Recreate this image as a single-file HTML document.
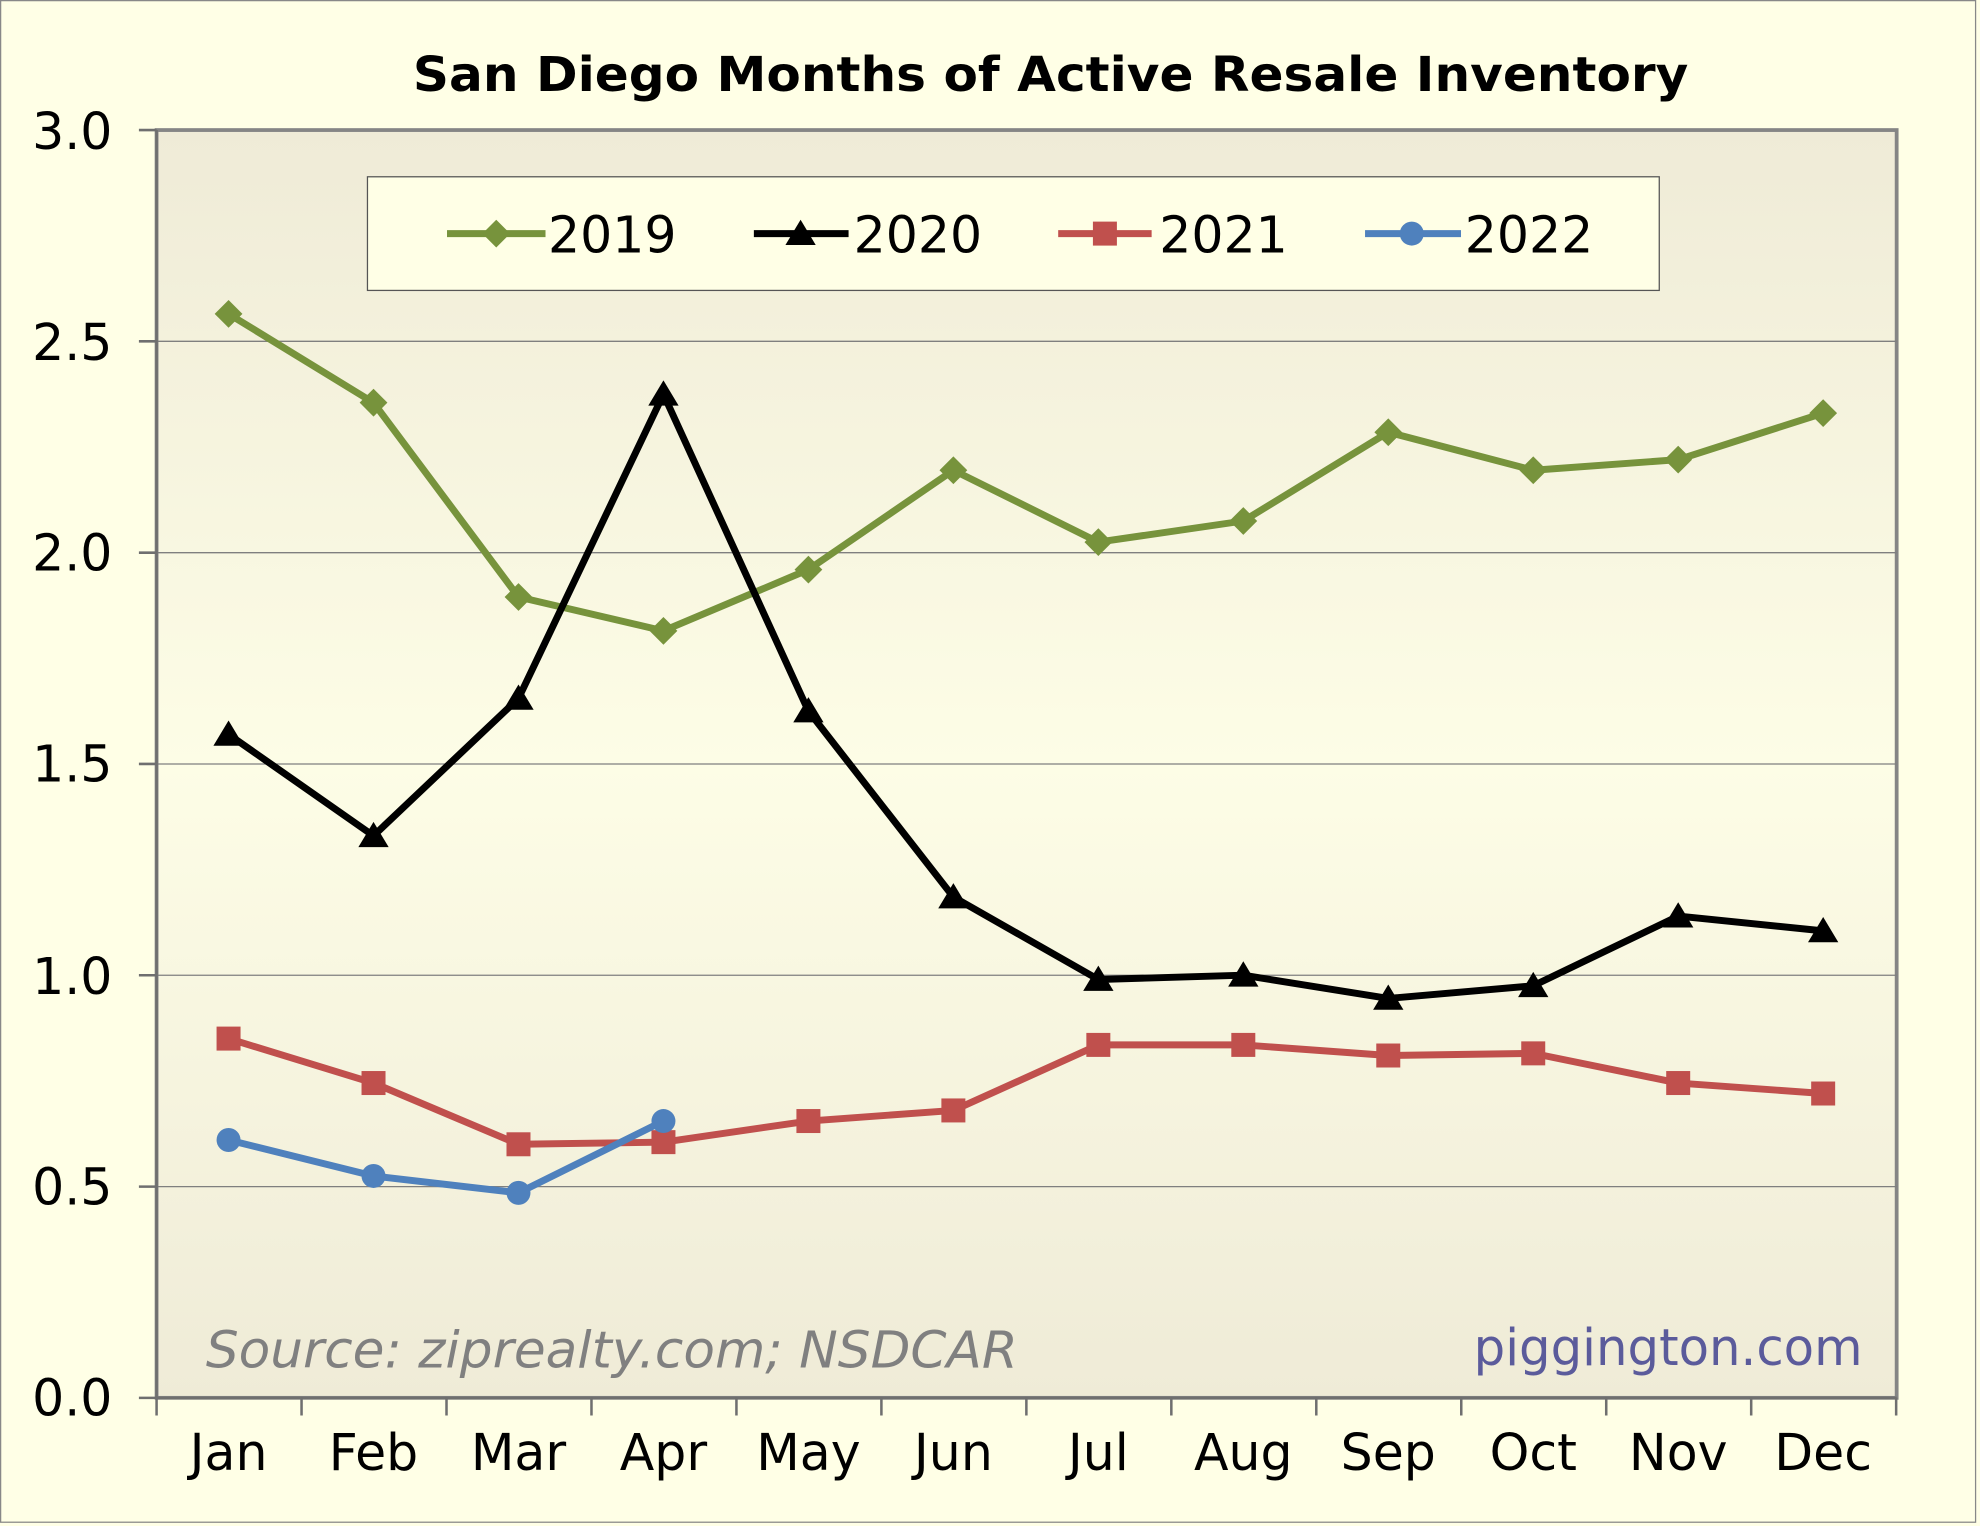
<!DOCTYPE html>
<html><head><style>html,body{margin:0;padding:0;background:#ffffe6;}svg{display:block}</style></head>
<body>
<svg width="1980" height="1526" viewBox="0 0 1568 1208.5" preserveAspectRatio="none" xmlns="http://www.w3.org/2000/svg">
<defs>
<linearGradient id="g" x1="0" y1="0" x2="0" y2="1">
<stop offset="0" stop-color="#efebd7"/>
<stop offset="0.5" stop-color="#fdfde6"/>
<stop offset="1" stop-color="#efebd7"/>
</linearGradient>
</defs>
<rect x="0.5" y="0.5" width="1564" height="1205" fill="#ffffe6" stroke="#888" stroke-width="1"/>
<text x="832" y="72" text-anchor="middle" font-family="DejaVu Sans, Liberation Sans, sans-serif" font-weight="bold" font-size="38" textLength="1010" lengthAdjust="spacingAndGlyphs">San Diego Months of Active Resale Inventory</text>
<rect x="124" y="103" width="1378" height="1004" fill="url(#g)" stroke="#858585" stroke-width="3"/>
<g stroke="#7f7f7f" stroke-width="1">
<line x1="124" y1="270.3" x2="1502" y2="270.3"/>
<line x1="124" y1="437.7" x2="1502" y2="437.7"/>
<line x1="124" y1="605" x2="1502" y2="605"/>
<line x1="124" y1="772.3" x2="1502" y2="772.3"/>
<line x1="124" y1="939.7" x2="1502" y2="939.7"/>
</g>
<g stroke="#6f6f6f" stroke-width="2">
<line x1="124" y1="103" x2="124" y2="1107"/>
<line x1="124" y1="1107" x2="1502" y2="1107"/>
<line x1="110" y1="103" x2="124" y2="103"/><line x1="110" y1="270.3" x2="124" y2="270.3"/><line x1="110" y1="437.7" x2="124" y2="437.7"/><line x1="110" y1="605" x2="124" y2="605"/><line x1="110" y1="772.3" x2="124" y2="772.3"/><line x1="110" y1="939.7" x2="124" y2="939.7"/><line x1="110" y1="1107" x2="124" y2="1107"/>
<line x1="124" y1="1107" x2="124" y2="1121"/><line x1="238.8" y1="1107" x2="238.8" y2="1121"/><line x1="353.6" y1="1107" x2="353.6" y2="1121"/><line x1="468.4" y1="1107" x2="468.4" y2="1121"/><line x1="583.2" y1="1107" x2="583.2" y2="1121"/><line x1="698" y1="1107" x2="698" y2="1121"/><line x1="812.8" y1="1107" x2="812.8" y2="1121"/><line x1="927.6" y1="1107" x2="927.6" y2="1121"/><line x1="1042.4" y1="1107" x2="1042.4" y2="1121"/><line x1="1157.2" y1="1107" x2="1157.2" y2="1121"/><line x1="1272" y1="1107" x2="1272" y2="1121"/><line x1="1386.8" y1="1107" x2="1386.8" y2="1121"/><line x1="1501.6" y1="1107" x2="1501.6" y2="1121"/>
</g>
<g font-family="DejaVu Sans, Liberation Sans, sans-serif" font-size="40" text-anchor="end">
<text x="89" y="118">3.0</text><text x="89" y="285">2.5</text><text x="89" y="452">2.0</text><text x="89" y="619">1.5</text><text x="89" y="787">1.0</text><text x="89" y="954">0.5</text><text x="89" y="1121">0.0</text>
</g>
<g font-family="DejaVu Sans, Liberation Sans, sans-serif" font-size="40" text-anchor="middle">
<text x="181" y="1164">Jan</text><text x="295.8" y="1164">Feb</text><text x="410.6" y="1164">Mar</text><text x="525.4" y="1164">Apr</text><text x="640.2" y="1164">May</text><text x="755" y="1164">Jun</text><text x="869.8" y="1164">Jul</text><text x="984.6" y="1164">Aug</text><text x="1099.4" y="1164">Sep</text><text x="1214.2" y="1164">Oct</text><text x="1329" y="1164">Nov</text><text x="1443.8" y="1164">Dec</text>
</g>
<text x="163" y="1083" font-family="DejaVu Sans, Liberation Sans, sans-serif" font-style="italic" font-size="40" fill="#808080" textLength="643" lengthAdjust="spacingAndGlyphs">Source: ziprealty.com; NSDCAR</text>
<text x="1475" y="1081" text-anchor="end" font-family="DejaVu Sans, Liberation Sans, sans-serif" font-size="40" fill="#5b5b9b" textLength="308" lengthAdjust="spacingAndGlyphs">piggington.com</text>
<rect x="291" y="140" width="1023" height="90" fill="#ffffe6" stroke="#555" stroke-width="1"/>
<polyline fill="none" stroke="#77933c" stroke-width="5.5" stroke-linejoin="round" points="181,248.6 295.8,318.9 410.6,472.8 525.4,499.6 640.2,451.1 755,372.4 869.8,429.3 984.6,412.6 1099.4,342.3 1214.2,372.4 1329,364 1443.8,327.2"/>
<g fill="#77933c">
<path d="M181,237.6l11,11l-11,11l-11,-11z"/><path d="M295.8,307.9l11,11l-11,11l-11,-11z"/><path d="M410.6,461.8l11,11l-11,11l-11,-11z"/><path d="M525.4,488.6l11,11l-11,11l-11,-11z"/><path d="M640.2,440.1l11,11l-11,11l-11,-11z"/><path d="M755,361.4l11,11l-11,11l-11,-11z"/><path d="M869.8,418.3l11,11l-11,11l-11,-11z"/><path d="M984.6,401.6l11,11l-11,11l-11,-11z"/><path d="M1099.4,331.3l11,11l-11,11l-11,-11z"/><path d="M1214.2,361.4l11,11l-11,11l-11,-11z"/><path d="M1329,353l11,11l-11,11l-11,-11z"/><path d="M1443.8,316.2l11,11l-11,11l-11,-11z"/>
</g>
<polyline fill="none" stroke="#000" stroke-width="5.5" stroke-linejoin="round" points="181,581.6 295.8,661.9 410.6,553.1 525.4,312.2 640.2,563.1 755,710.4 869.8,775.7 984.6,772.3 1099.4,790.7 1214.2,780.7 1329,725.5 1443.8,737.2"/>
<g fill="#000">
<path d="M181,570.6l12,20h-24z"/><path d="M295.8,650.9l12,20h-24z"/><path d="M410.6,542.1l12,20h-24z"/><path d="M525.4,301.2l12,20h-24z"/><path d="M640.2,552.1l12,20h-24z"/><path d="M755,699.4l12,20h-24z"/><path d="M869.8,764.7l12,20h-24z"/><path d="M984.6,761.3l12,20h-24z"/><path d="M1099.4,779.7l12,20h-24z"/><path d="M1214.2,769.7l12,20h-24z"/><path d="M1329,714.5l12,20h-24z"/><path d="M1443.8,726.2l12,20h-24z"/>
</g>
<polyline fill="none" stroke="#c0504d" stroke-width="5.5" stroke-linejoin="round" points="181,822.5 295.8,857.7 410.6,906.2 525.4,904.5 640.2,887.8 755,879.4 869.8,827.5 984.6,827.5 1099.4,835.9 1214.2,834.2 1329,857.7 1443.8,866"/>
<g fill="#c0504d">
<rect x="171.5" y="813" width="19" height="19"/><rect x="286.3" y="848.2" width="19" height="19"/><rect x="401.1" y="896.7" width="19" height="19"/><rect x="515.9" y="895" width="19" height="19"/><rect x="630.7" y="878.3" width="19" height="19"/><rect x="745.5" y="869.9" width="19" height="19"/><rect x="860.3" y="818" width="19" height="19"/><rect x="975.1" y="818" width="19" height="19"/><rect x="1089.9" y="826.4" width="19" height="19"/><rect x="1204.7" y="824.7" width="19" height="19"/><rect x="1319.5" y="848.2" width="19" height="19"/><rect x="1434.3" y="856.5" width="19" height="19"/>
</g>
<polyline fill="none" stroke="#4f81bd" stroke-width="5.5" stroke-linejoin="round" points="181,902.8 295.8,931.3 410.6,944.7 525.4,887.8"/>
<g fill="#4f81bd">
<circle cx="181" cy="902.8" r="9.5"/><circle cx="295.8" cy="931.3" r="9.5"/><circle cx="410.6" cy="944.7" r="9.5"/><circle cx="525.4" cy="887.8" r="9.5"/>
</g>
<line x1="354" y1="185" x2="432" y2="185" stroke="#77933c" stroke-width="5.5"/><path d="M393,174l11,11l-11,11l-11,-11z" fill="#77933c"/>
<line x1="597" y1="185" x2="672" y2="185" stroke="#000" stroke-width="5.5"/><path d="M634,174l12,20h-24z" fill="#000"/>
<line x1="838" y1="185" x2="912" y2="185" stroke="#c0504d" stroke-width="5.5"/><rect x="865.5" y="175.5" width="19" height="19" fill="#c0504d"/>
<line x1="1081" y1="185" x2="1157" y2="185" stroke="#4f81bd" stroke-width="5.5"/><circle cx="1118" cy="185" r="9.5" fill="#4f81bd"/>
<g font-family="DejaVu Sans, Liberation Sans, sans-serif" font-size="40">
<text x="434" y="200">2019</text><text x="676" y="200">2020</text><text x="918" y="200">2021</text><text x="1160" y="200">2022</text>
</g>
</svg>
</body></html>
